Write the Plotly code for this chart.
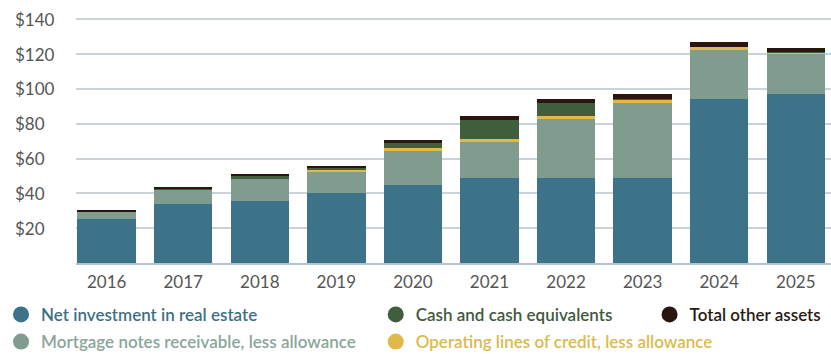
import plotly.graph_objects as go

years = ["2016", "2017", "2018", "2019", "2020", "2021", "2022", "2023", "2024", "2025"]

# Balance sheet components, $ millions
net_investment = [25.5, 34.1, 35.4, 40.2, 45.0, 48.7, 48.8, 48.8, 94.4, 97.1]
mortgage_notes = [3.8, 8.1, 13.1, 12.3, 19.3, 20.8, 33.9, 43.3, 27.8, 23.2]
operating_lines = [0.0, 0.0, 0.0, 1.1, 1.7, 1.7, 1.5, 1.9, 1.9, 0.5]
cash = [0.2, 0.7, 1.8, 1.1, 3.1, 11.1, 7.6, 0.3, 0.0, 0.6]
other_assets = [0.8, 0.8, 1.0, 0.8, 1.3, 1.9, 2.5, 2.9, 2.9, 2.3]

y_ticks = [20, 40, 60, 80, 100, 120, 140]

series = [
    ("Net investment in real estate", net_investment, "#3d7389", "#3e6f84", "legend"),
    ("Mortgage notes receivable, less allowance", mortgage_notes, "#7f9c8f", "#8aa59a", "legend"),
    ("Operating lines of credit, less allowance", operating_lines, "#e0b94a", "#dcb94e", "legend2"),
    ("Cash and cash equivalents", cash, "#3e5e3c", "#3f5a3d", "legend2"),
    ("Total other assets", other_assets, "#2a1510", "#2b1a14", "legend3"),
]

legend_rank = {
    "Net investment in real estate": 1,
    "Mortgage notes receivable, less allowance": 2,
    "Cash and cash equivalents": 1,
    "Operating lines of credit, less allowance": 2,
    "Total other assets": 1,
}

fig = go.Figure()
for name, vals, color, text_color, leg in series:
    fig.add_trace(go.Bar(
        x=years, y=vals, name=name, marker=dict(color=color, line=dict(width=0)),
        showlegend=False,
    ))
for name, vals, color, text_color, leg in series:
    fig.add_trace(go.Scatter(
        x=[None], y=[None], mode="markers",
        marker=dict(color=color, size=18, symbol="circle"),
        name=f'<span style="color:{text_color}">{name}</span>',
        legend=leg, legendgroup=name, legendrank=legend_rank[name],
    ))

font_family = "Lato, 'Open Sans', sans-serif"

for v in y_ticks:
    fig.add_annotation(
        x=-0.0834, xref="paper", y=v, yref="y", text=f"${v}",
        showarrow=False, xanchor="left", yanchor="middle",
        font=dict(family=font_family, size=17, color="#555555"),
    )

legend_common = dict(
    orientation="v", yanchor="top", xanchor="left",
    bgcolor="rgba(0,0,0,0)", tracegroupgap=2,
    font=dict(family=font_family, size=17, weight=600),
    itemclick=False, itemdoubleclick=False,
)

fig.update_layout(
    width=831, height=354,
    margin=dict(l=76, r=0, t=10, b=91, autoexpand=False),
    paper_bgcolor="white", plot_bgcolor="white",
    barmode="stack", bargap=0.236,
    legend=dict(x=-0.0993, y=-0.134, **legend_common),
    legend2=dict(x=0.397, y=-0.134, **legend_common),
    legend3=dict(x=0.7597, y=-0.134, **legend_common),
    xaxis=dict(
        range=[-0.4, 9.46], showgrid=False, ticks="",
        tickfont=dict(family=font_family, size=17, color="#555555"),
        ticklabelstandoff=3,
        showline=True, linecolor="#b3c2cc", linewidth=2,
        fixedrange=True,
    ),
    yaxis=dict(
        range=[0, 145.3], tickvals=y_ticks, showticklabels=False,
        showgrid=True, gridcolor="#c9d3d9", gridwidth=1.5,
        zeroline=False, fixedrange=True,
    ),
)

fig.write_html("out.html", config={"displayModeBar": False})
